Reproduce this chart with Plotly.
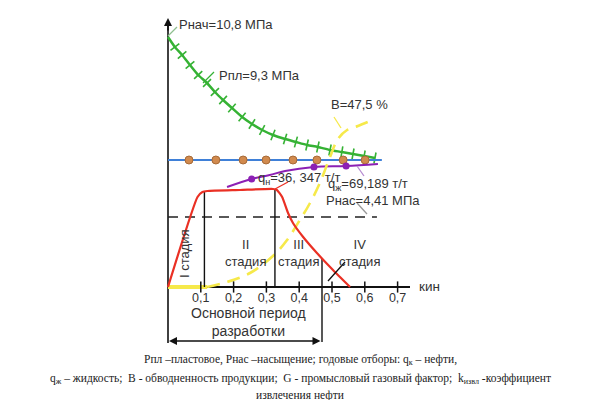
import numpy as np
import plotly.graph_objects as go

# ---------------- data (x: oil recovery factor kин, y: relative scale units) -------------
kin_ticks = [0.1, 0.2, 0.3, 0.4, 0.5, 0.6, 0.7]
kin_tick_labels = ["0,1", "0,2", "0,3", "0,4", "0,5", "0,6", "0,7"]

# reservoir pressure Рпл (green, falls from Рнач)
ppl_kin = [0.0, 0.021, 0.043, 0.067, 0.092, 0.119, 0.143, 0.168, 0.195, 0.226, 0.256,
           0.287, 0.320, 0.357, 0.390, 0.424, 0.457, 0.494, 0.530, 0.564, 0.598, 0.631]
ppl_val = [250, 240, 232, 222, 212, 204, 195, 187, 179, 170, 163,
           157, 152, 148, 145, 142, 140, 137, 135, 133, 131, 129]

# gas factor G (blue line with orange points)
gas_kin = [0.0, 0.064, 0.146, 0.229, 0.299, 0.381, 0.454, 0.534, 0.601, 0.652]
gas_val = [127, 127, 127, 127, 127, 127, 127, 127, 127, 127]
gas_point = [0, 1, 1, 1, 1, 1, 1, 1, 1, 0]

# liquid withdrawal qж (purple)
qzh_kin = [0.18, 0.255, 0.31, 0.357, 0.445, 0.543, 0.64]
qzh_val = [100, 108, 112, 116, 120, 121, 123]
qzh_point = [0, 1, 0, 0, 1, 1, 0]

# oil withdrawal qн (red)
qn_kin = [0.0, 0.09, 0.105, 0.12, 0.22, 0.32, 0.332, 0.348, 0.366, 0.381, 0.412, 0.454, 0.503, 0.555]
qn_val = [0, 90, 95, 96, 97, 98, 97, 90, 74, 64, 50, 34, 17, 0]

# water cut B (yellow)
water_kin = [0.0, 0.119, 0.18, 0.25, 0.32, 0.363, 0.402, 0.433, 0.463, 0.494, 0.518, 0.546, 0.579, 0.616]
water_val = [0, 0, 5, 14, 31, 47, 67, 84, 104, 130, 148, 157, 161, 166]

# saturation pressure Рнас (black dashed level)
pnas_kin = [0.0, 0.637]
pnas_val = [70, 70]

# stage boundaries (kин)
stage_bounds = [0.111, 0.326, 0.4695]
main_period_floor = -55

# ---------------- geometry helpers ----------------
W, H = 600, 400
X0_PX, PX_PER_KIN, Y0_PX = 168, 328, 287
AXIS_END_KIN = (410 - X0_PX) / PX_PER_KIN


def px(x):
    return x / W


def py(y):
    return 1 - y / H


GREEN = "#35b234"
BLUE = "#3f80d8"
ORANGE = "#d18a4e"
PURPLE = "#8c20b4"
RED = "#ea3024"
YELLOW = "#f6e94a"
TXT = "#333333"
SANS = "Liberation Sans, Arial, sans-serif"
SERIF = "Liberation Serif, Times New Roman, serif"

fig = go.Figure()

# Рпл curve with perpendicular tick marks
gx = np.array(ppl_kin) * PX_PER_KIN
gy = -np.array(ppl_val, dtype=float)
ang = np.degrees(np.arctan2(np.gradient(gy), np.gradient(gx)))
fig.add_trace(go.Scatter(
    x=ppl_kin, y=ppl_val, mode="lines",
    line=dict(color=GREEN, width=2.5, shape="spline", smoothing=0.6),
    hoverinfo="skip"))
fig.add_trace(go.Scatter(
    x=ppl_kin[1:], y=ppl_val[1:], mode="markers",
    marker=dict(symbol="line-ns", size=8, angle=ang[1:].tolist(),
                color=GREEN, line=dict(color=GREEN, width=1.6)),
    hoverinfo="skip"))

# gas factor
fig.add_trace(go.Scatter(
    x=gas_kin, y=gas_val, mode="lines",
    line=dict(color=BLUE, width=2.2), hoverinfo="skip"))
fig.add_trace(go.Scatter(
    x=[k for k, p in zip(gas_kin, gas_point) if p],
    y=[v for v, p in zip(gas_val, gas_point) if p], mode="markers",
    marker=dict(color=ORANGE, size=8, line=dict(color="#a86a36", width=1)),
    hoverinfo="skip"))

# qж
fig.add_trace(go.Scatter(
    x=qzh_kin, y=qzh_val, mode="lines",
    line=dict(color=PURPLE, width=2, shape="spline"), hoverinfo="skip"))
fig.add_trace(go.Scatter(
    x=[k for k, p in zip(qzh_kin, qzh_point) if p],
    y=[v for v, p in zip(qzh_val, qzh_point) if p], mode="markers",
    marker=dict(color=PURPLE, size=7), hoverinfo="skip"))

# Рнас dashed level
fig.add_trace(go.Scatter(
    x=pnas_kin, y=pnas_val, mode="lines",
    line=dict(color="#222222", width=1.6, dash="10px,7px"), hoverinfo="skip"))

# water cut: solid flat start, dashed growth
fig.add_trace(go.Scatter(
    x=water_kin[:2], y=water_val[:2], mode="lines",
    line=dict(color=YELLOW, width=4), hoverinfo="skip"))
fig.add_trace(go.Scatter(
    x=water_kin[1:], y=water_val[1:], mode="lines",
    line=dict(color=YELLOW, width=2.6, dash="13px,8px", shape="spline"),
    hoverinfo="skip"))

# kин axis ticks (crossing marks) and labels
fig.add_trace(go.Scatter(
    x=kin_ticks, y=[0] * len(kin_ticks), mode="markers",
    marker=dict(symbol="line-ns", size=8, color="#111111",
                line=dict(color="#111111", width=1.5)),
    hoverinfo="skip"))
fig.add_trace(go.Scatter(
    x=kin_ticks, y=[-12] * len(kin_ticks), mode="text", text=kin_tick_labels,
    textposition="middle center",
    textfont=dict(family=SANS, size=12.5, color=TXT), hoverinfo="skip"))

# stage boundary verticals
vx, vy = [], []
for i, b in enumerate(stage_bounds):
    top = float(np.interp(b, qn_kin, qn_val))
    bottom = main_period_floor if i == len(stage_bounds) - 1 else 0
    vx += [b, b, None]
    vy += [top, bottom, None]
fig.add_trace(go.Scatter(x=vx, y=vy, mode="lines",
                         line=dict(color="#111111", width=1.4), hoverinfo="skip"))

# qн
fig.add_trace(go.Scatter(
    x=qn_kin, y=qn_val, mode="lines",
    line=dict(color=RED, width=2.2, shape="spline", smoothing=0.5), hoverinfo="skip"))

shapes = []
# axes lines
shapes.append(dict(type="line", xref="x", yref="y", x0=0, x1=AXIS_END_KIN, y0=0, y1=0,
                   layer="below", line=dict(color="#111111", width=1.8)))
shapes.append(dict(type="line", xref="paper", yref="paper", x0=px(X0_PX), x1=px(X0_PX),
                   y0=py(22), y1=py(343), layer="below",
                   line=dict(color="#111111", width=1.6)))
# leaders
leaders = [((168, 36), (177, 27), "#8fbf8f"),
           ((203, 83), (214, 72), GREEN),
           ((275, 189), (288, 182), RED),
           ((357, 166), (364, 176), "#b58ad0"),
           ((357, 203), (367, 214), "#999999"),
           ((334, 117), (341, 128), YELLOW),
           ((345, 262), (328, 281), "#111111")]
for (a, b, c) in leaders:
    shapes.append(dict(type="line", xref="paper", yref="paper",
                       x0=px(a[0]), y0=py(a[1]), x1=px(b[0]), y1=py(b[1]),
                       line=dict(color=c, width=1.3)))

ann = []


def label(text, x, y, size=13, xanchor="left", font=SANS, color=TXT, angle=0):
    ann.append(dict(text=text, x=px(x), y=py(y), xref="paper", yref="paper",
                    xanchor=xanchor, yanchor="middle", showarrow=False,
                    textangle=angle, font=dict(family=font, size=size, color=color)))


label("Рнач=10,8 МПа", 177, 24)
label("Рпл=9,3 МПа", 217, 75)
label("B=47,5 %", 329, 104)
label("q<sub>н</sub>=36, 347 т/т", 256, 178)
label("q<sub>ж</sub>=69,189 т/т", 326, 184)
label("Рнас=4,41 МПа", 324, 200)
label("I стадия", 184, 254, angle=-90, xanchor="center")
label("II<br>стадия", 245, 253, xanchor="center")
label("III<br>стадия", 298, 253, xanchor="center")
label("IV<br>стадия", 359, 253, xanchor="center")
label("кин", 417, 286, size=13.5)
label("Основной период<br>разработки", 248, 322, size=14, xanchor="center")
label("Рпл –пластовое, Рнас –насыщение; годовые отборы: q<sub>к</sub> – нефти,",
      W / 2, 360, size=11.5, xanchor="center", font=SERIF, color="#222222")
label("q<sub>ж</sub> – жидкость;  B - обводненность продукции;  G - промысловый газовый фактор;  "
      "k<sub>извл</sub> -коэффициент",
      W / 2, 379, size=11.5, xanchor="center", font=SERIF, color="#222222")
label("извлечения нефти", W / 2, 395, size=11.5, xanchor="center", font=SERIF, color="#222222")

# y-axis arrow head
ann.append(dict(x=px(X0_PX), y=py(18), xref="paper", yref="paper", ax=0, ay=14,
                showarrow=True, arrowhead=2, arrowsize=1, arrowwidth=1.6,
                arrowcolor="#111111", text=""))
# main period bracket
ann.append(dict(x=px(X0_PX + 1), y=py(341), xref="paper", yref="paper",
                ax=322 - X0_PX - 1, ay=0, showarrow=True, arrowhead=2, arrowside="end+start",
                arrowsize=1, arrowwidth=1.6, arrowcolor="#111111", text=""))

fig.update_layout(
    width=W, height=H, margin=dict(l=0, r=0, t=0, b=0),
    paper_bgcolor="white", plot_bgcolor="white", showlegend=False,
    xaxis=dict(range=[-X0_PX / PX_PER_KIN, (W - X0_PX) / PX_PER_KIN], visible=False),
    yaxis=dict(range=[Y0_PX - H, Y0_PX], visible=False),
    shapes=shapes, annotations=ann,
)

fig.write_html("out.html")
